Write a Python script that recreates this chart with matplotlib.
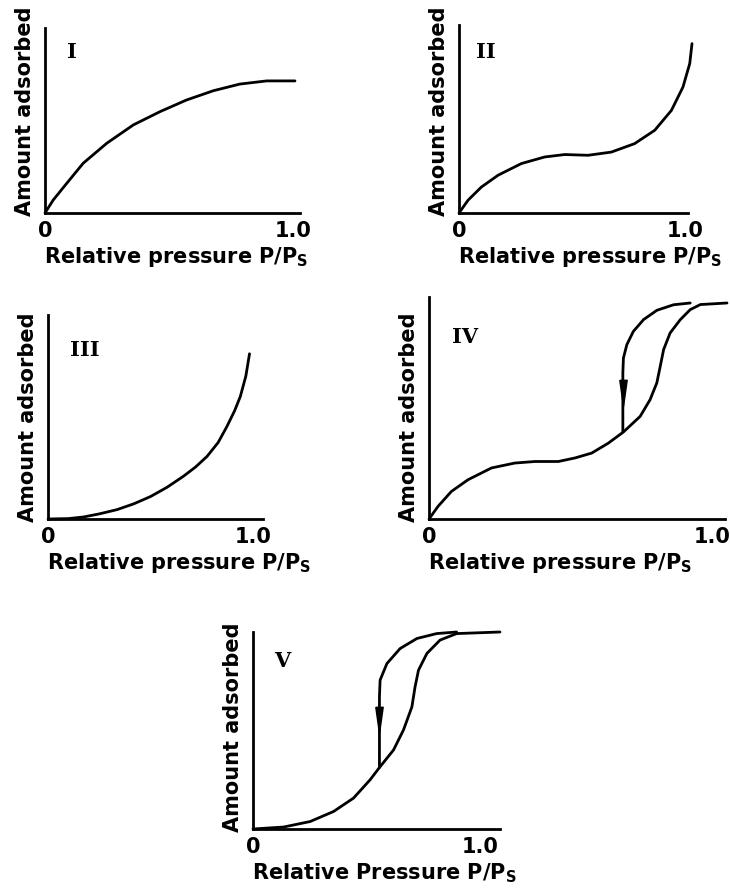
import matplotlib.pyplot as plt

# Isotherm type I
p1 = [0, 0.033, 0.088, 0.154, 0.249, 0.356, 0.464, 0.571, 0.679, 0.786, 0.894, 1.008]
a1 = [0, 0.070, 0.161, 0.269, 0.377, 0.476, 0.548, 0.611, 0.661, 0.697, 0.714, 0.714]

# Isotherm type II
p2 = [0, 0.040, 0.099, 0.173, 0.276, 0.379, 0.468, 0.571, 0.674, 0.777, 0.866, 0.940, 0.991, 1.021, 1.031]
a2 = [0, 0.068, 0.138, 0.201, 0.263, 0.298, 0.311, 0.307, 0.324, 0.369, 0.440, 0.546, 0.670, 0.795, 0.901]

# Isotherm type III
p3 = [0, 0.1, 0.174, 0.25, 0.337, 0.42, 0.50, 0.58, 0.66, 0.72, 0.776, 0.83, 0.873, 0.91, 0.938, 0.965, 0.983]
a3 = [0, 0.002, 0.01, 0.025, 0.046, 0.075, 0.11, 0.155, 0.209, 0.255, 0.307, 0.375, 0.454, 0.53, 0.60, 0.70, 0.81]

# Isotherm type IV (adsorption branch, then desorption branch)
p4 = [0, 0.032, 0.079, 0.138, 0.221, 0.303, 0.374, 0.457, 0.516, 0.575, 0.634, 0.687, 0.746, 0.781,
      0.805, 0.817, 0.829, 0.852, 0.888, 0.923, 0.959, 1.053]
a4 = [0, 0.057, 0.124, 0.177, 0.230, 0.252, 0.259, 0.259, 0.275, 0.297, 0.342, 0.392, 0.462, 0.537,
      0.613, 0.687, 0.763, 0.838, 0.898, 0.943, 0.966, 0.973]
d4p = [0.923, 0.864, 0.805, 0.758, 0.722, 0.699, 0.687, 0.685, 0.685]
d4a = [0.973, 0.965, 0.940, 0.898, 0.845, 0.785, 0.725, 0.658, 0.392]
arrow4 = (0.685, 0.569)

# Isotherm type V
p5 = [0, 0.135, 0.252, 0.355, 0.443, 0.516, 0.557, 0.619, 0.663, 0.700, 0.714, 0.729, 0.766, 0.824, 0.897, 1.088]
a5 = [0, 0.01, 0.038, 0.089, 0.157, 0.25, 0.312, 0.401, 0.503, 0.620, 0.722, 0.806, 0.891, 0.959, 0.992, 1.0]
d5p = [0.897, 0.809, 0.722, 0.648, 0.590, 0.560, 0.557, 0.557]
d5a = [1.0, 0.992, 0.967, 0.916, 0.840, 0.756, 0.671, 0.312]
arrow5 = (0.557, 0.553)

numerals = ['I', 'II', 'III', 'IV', 'V']
xlabels = [r'Relative pressure P/P$_\mathbf{S}$'] * 4 + [r'Relative Pressure P/P$_\mathbf{S}$']
ylabel = 'Amount adsorbed'

W, H = 730, 888
fig = plt.figure(figsize=(W / 100, H / 100), dpi=100)
plt.rcParams['mathtext.fontset'] = 'dejavusans'

# axis boxes in pixels: left, top, right, bottom, and the x where 1.0 sits
boxes = [
    (45, 28, 300, 213, 293),
    (459, 25, 688, 213, 685),
    (48, 315, 263, 519, 253),
    (429, 297, 725, 519, 712),
    (253, 632, 500, 829, 480),
]
numeral_pos = [(72, 52), (486, 52), (85, 350), (465, 337), (282, 661)]

curves = [
    [(p1, a1)],
    [(p2, a2)],
    [(p3, a3)],
    [(p4, a4), (d4p, d4a)],
    [(p5, a5), (d5p, d5a)],
]
arrows = [None, None, None, arrow4, arrow5]

head = [(-0.28, 1.0), (0.28, 1.0), (0.0, -1.0), (-0.28, 1.0)]

for i, (l, t, r, b, one) in enumerate(boxes):
    ax = fig.add_axes([l / W, 1 - b / H, (r - l) / W, (b - t) / H])
    scale = one - l
    ax.set_xlim(0, (r - l) / scale)
    ax.set_ylim(0, 1)
    for x, y in curves[i]:
        ax.plot(x, y, color='black', lw=2.0, clip_on=False,
                solid_capstyle='round', solid_joinstyle='round')
    if arrows[i] is not None:
        ax.plot(*arrows[i], marker=head, markersize=19, color='black', clip_on=False)
    for s in ['top', 'right']:
        ax.spines[s].set_visible(False)
    for s in ['left', 'bottom']:
        ax.spines[s].set_linewidth(2.0)
    ax.set_yticks([])
    ax.set_xticks([0, 1.0])
    ax.set_xticklabels(['0', '1.0'], fontsize=15, fontweight='bold')
    ax.tick_params(axis='x', length=0, pad=6)
    ax.annotate(xlabels[i], xy=(0, 0), xycoords='axes fraction', xytext=(-1, -23),
                textcoords='offset points', ha='left', va='top',
                fontsize=15, fontweight='bold')
    ax.annotate(ylabel, xy=(0, 0), xycoords='axes fraction', xytext=(-14.4, -2),
                textcoords='offset points', ha='center', va='bottom', rotation=90,
                fontsize=15, fontweight='bold')
    nx, ny = numeral_pos[i]
    fig.text(nx / W, 1 - ny / H, numerals[i], ha='center', va='center',
             family='DejaVu Serif', fontweight='bold', fontsize=15)

fig.savefig('out.png', dpi=100)
